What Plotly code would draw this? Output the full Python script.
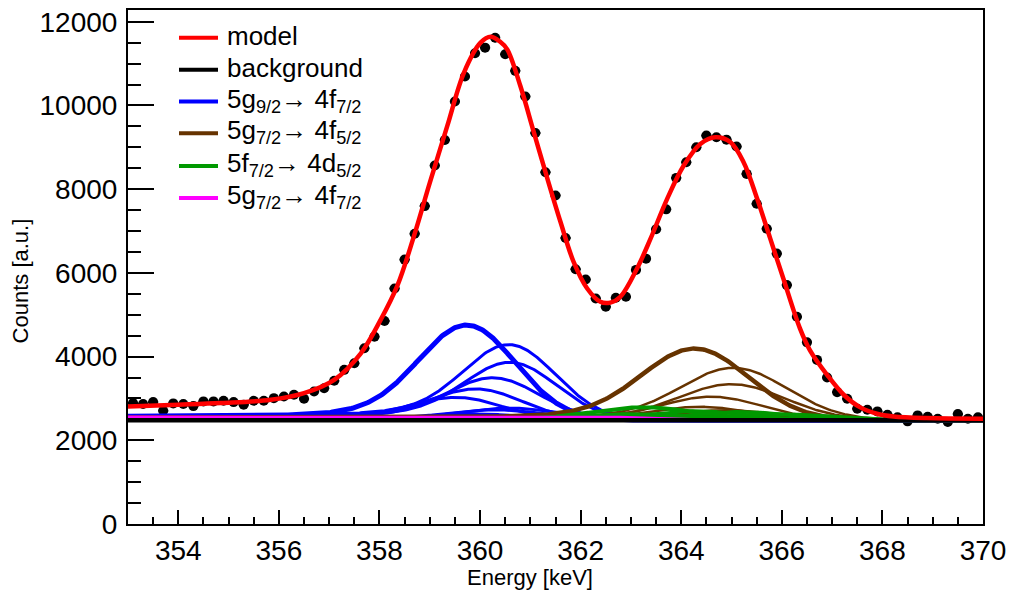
import math
import numpy as np
import plotly.graph_objects as go

# ---------------- data ----------------
energy = [round(353.1 + 0.2 * i, 1) for i in range(85)]
counts = [2889, 2865, 2912, 2707, 2881, 2865, 2817, 2929, 2929, 2945,
          2912, 2850, 2945, 2945, 3007, 3048, 3088, 2992, 3167, 3245,
          3421, 3683, 3840, 4198, 4476, 4850, 5627, 6317, 6936, 7595,
          8564, 9175, 10095, 10690, 11246, 11381, 11619, 11222, 10826, 10214,
          9340, 8405, 7850, 6833, 6088, 5841, 5389, 5190, 5405, 5430,
          6071, 6340, 7040, 7517, 8269, 8643, 9000, 9279, 9238, 9183,
          9017, 8364, 7650, 7055, 6460, 5707, 4952, 4340, 3921, 3500,
          3150, 2992, 2754, 2730, 2690, 2611, 2548, 2452, 2595, 2564,
          2516, 2436, 2626, 2516, 2548]

# total model curve
model_x = [353.0, 354.0, 354.85, 355.84, 356.5, 357.1, 357.63, 358.02, 358.36,
           358.69, 359.0, 359.35, 359.68, 360.01, 360.21, 360.4, 360.54, 360.8,
           361.07, 361.34, 361.6, 361.86, 362.13, 362.39, 362.59, 362.79, 363.12,
           363.39, 363.72, 364.05, 364.38, 364.68, 364.98, 365.24, 365.51, 365.77,
           366.03, 366.36, 366.56, 366.9, 367.23, 367.56, 367.89, 368.22, 368.88,
           370.0]
model_y = [2810, 2850, 2890, 2968, 3127, 3445, 4079, 4870, 5707,
           6897, 8150, 9517, 10786, 11500, 11640, 11520, 11341, 10469,
           9357, 8245, 7214, 6262, 5626, 5310, 5290, 5430, 6102,
           6817, 7769, 8564, 9079, 9238, 9119, 8643, 7769, 6817,
           5864, 4674, 4150, 3564, 3088, 2786, 2635, 2571, 2531,
           2515]

background = 2480

# fit components (peak height above background, centroid, width)
blue_amp = [2270, 1800, 1380, 1010, 745, 545, 290, 250, 150]
blue_mu = [359.78, 360.64, 360.66, 360.32, 359.98, 359.58, 360.65, 360.35, 359.95]
blue_sigma = [0.95, 0.9, 0.9, 0.9, 0.9, 0.9, 0.95, 0.95, 0.95]

brown_amp = [1710, 1250, 860, 560, 320, 240, 150]
brown_mu = [364.31, 365.08, 365.04, 364.64, 364.40, 364.9, 363.9]
brown_sigma = [1.05, 1.05, 1.05, 1.0, 1.0, 1.0, 1.0]

green_amp = [310, 220, 200, 150, 150]
green_mu = [363.3, 364.3, 365.2, 365.9, 363.0]
green_sigma = [1.0, 1.0, 1.0, 1.0, 1.0]

magenta_amp = [80]
magenta_mu = [362.6]
magenta_sigma = [1.0]

legend_labels = ["model", "background",
                 "5g<sub>9/2</sub>→ 4f<sub>7/2</sub>",
                 "5g<sub>7/2</sub>→ 4f<sub>5/2</sub>",
                 "5f<sub>7/2</sub>→ 4d<sub>5/2</sub>",
                 "5g<sub>7/2</sub>→ 4f<sub>7/2</sub>"]

# ---------------- style ----------------
RED, BLACK, BLUE, BROWN, GREEN, MAGENTA = "#ff0000", "#000000", "#0000ff", "#663300", "#009900", "#ff00ff"
FONT = "Liberation Sans, Arial, Helvetica, sans-serif"

erfc = np.vectorize(math.erfc)
x_curve = np.linspace(353.0, 370.0, 851)


def peak_shape(x, amp, mu, sigma, tail, beta, step):
    d = x - mu
    z = d / (math.sqrt(2) * sigma)
    g = np.exp(-d ** 2 / (2 * sigma ** 2))
    t = tail * np.exp(np.minimum(d / beta, 50)) * 0.5 * erfc(z + sigma / (math.sqrt(2) * beta))
    s = step * 0.5 * erfc(z)
    norm = 1 + tail * 0.5 * math.erfc(sigma / (math.sqrt(2) * beta)) + 0.5 * step
    return amp * (g + t + s) / norm


fig = go.Figure()

# data points
fig.add_trace(go.Scatter(
    x=energy, y=counts, mode="markers",
    marker=dict(color=BLACK, size=10),
    error_x=dict(type="constant", value=0.1, thickness=2, width=0, color=BLACK),
    error_y=dict(type="data", array=list(np.sqrt(counts)), thickness=2, width=0, color=BLACK),
    showlegend=False, hoverinfo="skip"))


def add_family(amps, mus, sigmas, color, tail, beta, step, widths):
    for i, (a, m, s) in enumerate(zip(amps, mus, sigmas)):
        y = background + peak_shape(x_curve, a, m, s, tail, beta, step)
        fig.add_trace(go.Scatter(x=x_curve, y=y, mode="lines",
                                 line=dict(color=color, width=widths[0] if i == 0 else widths[1]),
                                 showlegend=False, hoverinfo="skip"))


# thick blue first, then the thin ones
add_family(blue_amp[:1], blue_mu[:1], blue_sigma[:1], BLUE, 0.3, 1.2, 0.045, (5, 5))
add_family(blue_amp[1:], blue_mu[1:], blue_sigma[1:], BLUE, 0.35, 1.5, 0.06, (3, 3))
add_family(brown_amp, brown_mu, brown_sigma, BROWN, 0.2, 1.5, 0.04, (4.5, 2.5))
add_family(green_amp, green_mu, green_sigma, GREEN, 0.2, 1.5, 0.04, (4, 3.5))
add_family(magenta_amp, magenta_mu, magenta_sigma, MAGENTA, 0.0, 1.5, 2.0, (2.5, 2.5))

fig.add_trace(go.Scatter(x=[353.0, 370.0], y=[background, background], mode="lines",
                         line=dict(color=BLACK, width=4.5), showlegend=False, hoverinfo="skip"))

fig.add_trace(go.Scatter(x=model_x, y=model_y, mode="lines",
                         line=dict(color=RED, width=4.5, shape="spline", smoothing=1.0),
                         showlegend=False, hoverinfo="skip"))

# ---------------- layout ----------------
W, H = 1013, 597
L, R, T, B = 128, 30, 7, 73
pw, ph = W - L - R, H - T - B


def px_x(px):
    return (px - L) / pw


def px_y(py):
    return (H - B - py) / ph


shapes = []
annotations = []
legend_colors = [RED, BLACK, BLUE, BROWN, GREEN, MAGENTA]
legend_rows = [35, 67, 99, 131, 164, 196]
for lab, col, row in zip(legend_labels, legend_colors, legend_rows):
    shapes.append(dict(type="line", xref="paper", yref="paper",
                       x0=px_x(179), x1=px_x(218), y0=px_y(row), y1=px_y(row),
                       line=dict(color=col, width=4)))
    has_sub = "<sub>" in lab
    annotations.append(dict(xref="paper", yref="paper", x=px_x(225),
                            y=px_y(row - 19) if not has_sub else px_y(row - 20),
                            xanchor="left", yanchor="top", text=lab, showarrow=False,
                            font=dict(family=FONT, size=26, color=BLACK)))

annotations.append(dict(xref="paper", yref="paper", x=px_x(530), y=px_y(578),
                        xanchor="center", yanchor="middle", text="Energy [keV]",
                        showarrow=False, font=dict(family=FONT, size=22, color=BLACK)))
annotations.append(dict(xref="paper", yref="paper", x=px_x(20), y=px_y(280),
                        xanchor="center", yanchor="middle", text="Counts [a.u.]", textangle=-90,
                        showarrow=False, font=dict(family=FONT, size=22, color=BLACK)))

fig.update_layout(
    width=W, height=H,
    margin=dict(l=L, r=R, t=T, b=B, pad=0),
    paper_bgcolor="white", plot_bgcolor="white",
    font=dict(family=FONT, color=BLACK),
    showlegend=False,
    shapes=shapes, annotations=annotations,
    xaxis=dict(range=[353, 370], tick0=354, dtick=2, ticks="inside", ticklen=14, tickwidth=1.5,
               tickcolor=BLACK, showgrid=False, zeroline=False, showline=True, linecolor=BLACK,
               linewidth=2, mirror=True, tickfont=dict(family=FONT, size=28, color=BLACK),
               minor=dict(dtick=0.5, ticks="inside", ticklen=7, tickwidth=1.5, tickcolor=BLACK,
                          showgrid=False)),
    yaxis=dict(range=[0, 12280], tick0=0, dtick=2000, tickformat="d", ticks="inside", ticklen=26,
               tickwidth=1.5, tickcolor=BLACK, showgrid=False, zeroline=False, showline=True,
               linecolor=BLACK, linewidth=2, mirror=True,
               tickfont=dict(family=FONT, size=28, color=BLACK), ticklabelstandoff=3,
               minor=dict(dtick=500, ticks="inside", ticklen=13, tickwidth=1.5, tickcolor=BLACK,
                          showgrid=False)),
)

fig.write_html("out.html", config={"displayModeBar": False},
               post_script="document.body.style.margin='0px';")
